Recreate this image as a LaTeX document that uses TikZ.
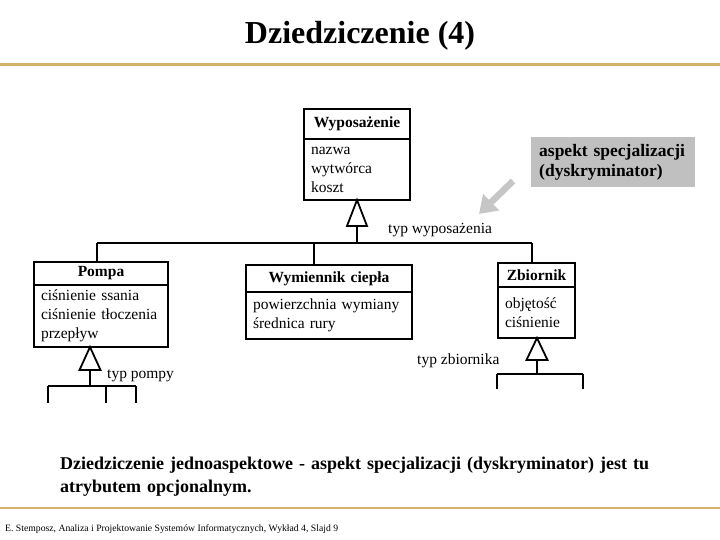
\documentclass[tikz,border=0pt]{standalone}
\usepackage{fontspec}
\setmainfont{Liberation Serif}
\usetikzlibrary{arrows.meta,calc}
\definecolor{czloto}{HTML}{D4B06A}
\definecolor{cszary}{HTML}{C0C0C0}
\definecolor{cstrz}{HTML}{C6C6C6}

\begin{document}
\begin{tikzpicture}[
  x=1pt, y=-1pt,
  cls/.style={draw, line width=1.8pt, anchor=north west, inner xsep=7pt, inner ysep=0pt, outer sep=0pt},
  head/.style={cls, font=\fontsize{15.5}{19}\selectfont\bfseries, align=center},
  attr/.style={cls, font=\fontsize{15.5}{19}\selectfont, align=left},
  inh/.style={line width=1.8pt},
  lbl/.style={font=\fontsize{15.5}{19}\selectfont, inner sep=0pt, anchor=west},
  rule/.style={draw=czloto},
  note/.style={fill=cszary, anchor=north west, inner xsep=8pt, inner ysep=0pt,
               text width=148pt, minimum height=50pt, align=left,
               font=\fontsize{17.5}{20}\selectfont\bfseries},
  ptr/.style={draw=cstrz, line width=6.5pt, -{Triangle[length=17pt,width=22pt]}},
]
\useasboundingbox (0,0) rectangle (720,540);

% ---- title ----
\node[font=\fontsize{32}{38}\selectfont\bfseries, anchor=base] (tytul) at (360,44) {Dziedziczenie (4)};
\coordinate (g1) at (0,65); \coordinate (g2) at (720,65);
\draw[rule, line width=3pt] (g1) -- (g2);

% ---- classes ----
\node[head, text width=92pt, minimum height=30pt] (wypH) at (304,109) {Wyposażenie};
\node[attr, text width=92pt, minimum height=61pt] (wypA) at (wypH.south west) {nazwa\\wytwórca\\koszt};

\node[head, text width=120pt, minimum height=23pt] (pompaH) at (34,262) {Pompa};
\node[attr, text width=120pt, minimum height=62pt] (pompaA) at (pompaH.south west) {ciśnienie ssania\\ciśnienie tłoczenia\\przepływ};

\node[head, text width=152pt, minimum height=27pt] (wymH) at (246,265) {Wymiennik ciepła};
\node[attr, text width=152pt, minimum height=47pt] (wymA) at (wymH.south west) {powierzchnia wymiany\\średnica rury};

\node[head, text width=63pt, minimum height=24pt] (zbH) at (498,263) {Zbiornik};
\node[attr, text width=63pt, minimum height=51pt] (zbA) at (zbH.south west) {objętość\\ciśnienie};

% ---- generalisation: Wyposazenie ----
\draw[inh, fill=white] (wypA.south) -- ++(-10,26) -- ++(20,0) -- cycle;
\coordinate (wypBus) at (357,243);
\coordinate (dPompa) at (97,243);
\coordinate (dWym) at (314,243);
\coordinate (dZb) at (532,243);
\draw[inh] ($(wypA.south)+(0,26)$) -- (wypBus);
\draw[inh] (dPompa) -- (dZb);
\draw[inh] (dPompa) -- (dPompa |- pompaH.north);
\draw[inh] (dWym) -- (dWym |- wymH.north);
\draw[inh] (dZb) -- (dZb |- zbH.north);
\node[lbl] (typWyp) at (388,230) {typ wyposażenia};

% ---- generalisation: Pompa ----
\coordinate (tPompa) at (90,347);
\draw[inh] (tPompa) -- ++(-10.5,23) -- ++(21,0) -- cycle;
\coordinate (bPompa) at (90,386);
\draw[inh] ($(tPompa)+(0,23)$) -- (bPompa);
\coordinate (p1) at (48,386); \coordinate (p2) at (136,386);
\draw[inh] (p1) -- (p2);
\foreach \x in {48,106,136}
  \draw[inh] (\x,386) -- (\x,403);
\node[lbl] (typPompy) at (107,376) {typ pompy};

% ---- generalisation: Zbiornik ----
\coordinate (tZb) at (537,338);
\draw[inh] (tZb) -- ++(-10.5,22) -- ++(21,0) -- cycle;
\coordinate (bZb) at (537,374);
\draw[inh] ($(tZb)+(0,22)$) -- (bZb);
\coordinate (z1) at (497,374); \coordinate (z2) at (583,374);
\draw[inh] (z1) -- (z2);
\foreach \x in {497,583}
  \draw[inh] (\x,374) -- (\x,389);
\node[lbl] (typZb) at (417,361) {typ zbiornika};

% ---- discriminator note ----
\node[note] (aspekt) at (531,137) {aspekt specjalizacji\\(dyskryminator)};
\coordinate (wskT) at (513,181);
\coordinate (wskH) at (479,214);
\draw[ptr] (wskT) -- (wskH);

% ---- comment text ----
\node[anchor=north west, inner sep=0pt, text width=612pt, align=left,
      font=\fontsize{18}{23}\selectfont\bfseries] (opis) at (60,457)
  {\makebox[612pt][s]{Dziedziczenie jednoaspektowe - aspekt specjalizacji (dyskryminator) jest tu}\\atrybutem opcjonalnym.};

% ---- footer ----
\coordinate (f1) at (0,508); \coordinate (f2) at (720,508);
\draw[rule, line width=1.2pt] (f1) -- (f2);
\node[anchor=base west, inner sep=0pt, font=\fontsize{9.7}{11}\selectfont] (stopka) at (5,531)
  {E. Stemposz, Analiza i Projektowanie Systemów Informatycznych, Wykład 4, Slajd 9};
\end{tikzpicture}
\end{document}
